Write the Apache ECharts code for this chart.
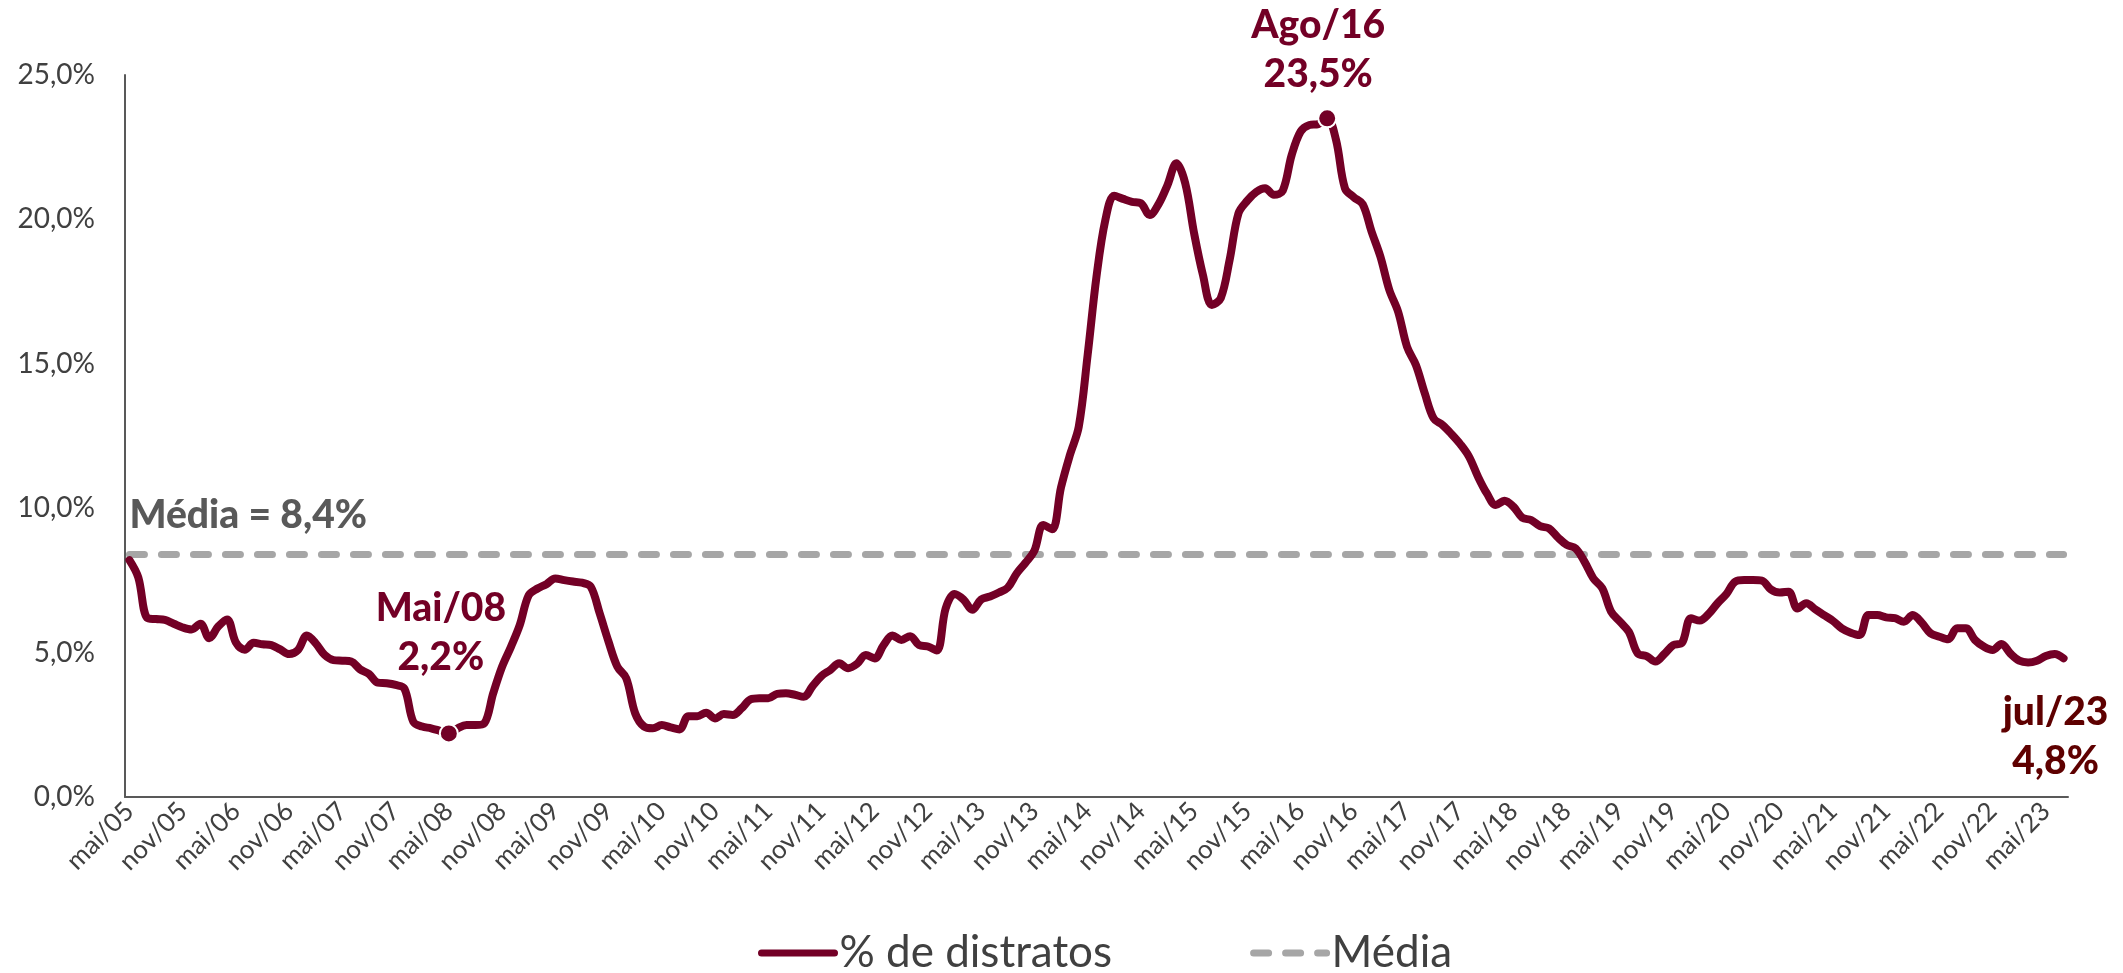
<!DOCTYPE html>
<html>
<head>
<meta charset="utf-8">
<script src="https://cdn.jsdelivr.net/npm/echarts@6/dist/echarts.min.js"></script>
<style>
    html, body { margin: 0; padding: 0; background: #fff; }
    #chart { width: 2123px; height: 973px; }
</style>
</head>
<body>
<div id="chart"></div>
<script>
// meses do eixo x (mai/05 ... jul/23)
var mesesNomes = ['jan','fev','mar','abr','mai','jun','jul','ago','set','out','nov','dez'];
var anoInicio = 2005, mesInicio = 4; // mai/05

// % de distratos, mensal
var distratos = [
    8.2, 7.6, 6.2, 6.16, 6.13, 6.0, 5.87, 5.8, 6.0, 5.5,
    5.9, 6.15, 5.35, 5.1, 5.34, 5.29, 5.26, 5.11, 4.95, 5.09,
    5.59, 5.32, 4.92, 4.74, 4.72, 4.69, 4.42, 4.26, 3.96, 3.94,
    3.88, 3.75, 2.6, 2.44, 2.38, 2.29, 2.2, 2.38, 2.49, 2.49,
    2.55, 3.59, 4.51, 5.2, 5.96, 6.99, 7.22, 7.37, 7.57, 7.51,
    7.46, 7.42, 7.28, 6.36, 5.38, 4.51, 4.11, 2.9, 2.44, 2.38,
    2.49, 2.41, 2.34, 2.8, 2.8, 2.92, 2.72, 2.87, 2.84, 3.07,
    3.38, 3.42, 3.42, 3.57, 3.59, 3.54, 3.47, 3.84, 4.19, 4.4,
    4.63, 4.46, 4.61, 4.92, 4.8, 5.26, 5.59, 5.44, 5.57, 5.26,
    5.21, 5.07, 6.53, 7.03, 6.84, 6.48, 6.84, 6.94, 7.08, 7.25,
    7.74, 8.11, 8.53, 9.42, 9.27, 10.72, 11.84, 12.82, 15.3, 18.02,
    19.98, 20.82, 20.71, 20.61, 20.56, 20.15, 20.53, 21.19, 21.94, 21.25,
    19.52, 18.07, 17.04, 17.27, 18.59, 20.21, 20.65, 20.95, 21.08, 20.85,
    21.0, 22.23, 23.04, 23.27, 23.3, 23.5, 22.75, 21.08, 20.77, 20.53,
    19.58, 18.71, 17.56, 16.8, 15.59, 14.96, 13.98, 13.11, 12.88, 12.57,
    12.22, 11.78, 11.09, 10.51, 10.11, 10.26, 10.05, 9.67, 9.59, 9.38,
    9.3, 8.99, 8.73, 8.61, 8.15, 7.57, 7.23, 6.42, 6.07, 5.72,
    4.97, 4.88, 4.69, 4.95, 5.26, 5.34, 6.19, 6.11, 6.34, 6.71,
    7.03, 7.46, 7.51, 7.51, 7.49, 7.19, 7.08, 7.11, 6.53, 6.71,
    6.5, 6.3, 6.1, 5.84, 5.69, 5.61, 6.3, 6.3, 6.22, 6.19,
    6.07, 6.3, 6.04, 5.67, 5.55, 5.46, 5.84, 5.84, 5.44, 5.21,
    5.09, 5.3, 4.97, 4.72, 4.66, 4.72, 4.88, 4.95, 4.8
];

// média do período
var mediaValor = 8.4;

// pontos destacados: índice no array e texto
var destaqueIdx = [36, 135, 218];
var destaqueTxt = ['Mai/08', 'Ago/16', 'jul/23'];

var categorias = [];
for (var i = 0; i < distratos.length; i++) {
    var m = mesInicio + i;
    var ano = anoInicio + Math.floor(m / 12);
    categorias.push(mesesNomes[m % 12] + '/' + String(ano).substr(2));
}
var media = distratos.map(function () { return mediaValor; });

var fmt = function (v) { return v.toFixed(1).replace('.', ',') + '%'; };

var vinho = '#730026';
var fonte = 'Lato';

var labelDestaque = {
    show: true,
    fontFamily: fonte,
    fontWeight: 900,
    fontSize: 39,
    lineHeight: 49,
    color: vinho,
    formatter: function (p) { return p.name + '\n' + fmt(p.value[1]); }
};

var destaques = [
    {   // Mai/08
        name: destaqueTxt[0],
        value: [destaqueIdx[0], distratos[destaqueIdx[0]]],
        label: Object.assign({}, labelDestaque, { position: 'top', distance: 42, offset: [-8, 0] })
    },
    {   // Ago/16
        name: destaqueTxt[1],
        value: [destaqueIdx[1], distratos[destaqueIdx[1]]],
        label: Object.assign({}, labelDestaque, { position: 'top', distance: 9, offset: [-9, 0] })
    },
    {   // jul/23
        name: destaqueTxt[2],
        value: [destaqueIdx[2], distratos[destaqueIdx[2]]],
        symbolSize: 0,
        label: Object.assign({}, labelDestaque, { position: 'bottom', distance: 30, offset: [-8, 0], color: '#5e0000' })
    },
    {   // rótulo da média
        name: 'Média = ' + fmt(mediaValor),
        value: [0, media[0]],
        symbolSize: 0,
        label: {
            show: true, position: 'top', align: 'left', distance: 19,
            fontFamily: fonte, fontWeight: 900, fontSize: 39, color: '#595959',
            formatter: function (p) { return p.name; }
        }
    }
];

var option = {
    animation: false,
    backgroundColor: '#fff',
    textStyle: { fontFamily: fonte },
    grid: { left: 125, right: 55, top: 75, bottom: 176 },
    legend: {
        data: ['% de distratos', 'Média'],
        left: 753,
        top: 926,
        itemWidth: 73,
        itemHeight: 14,
        itemGap: 138,
        itemStyle: { opacity: 0 },
        lineStyle: { width: 7, cap: 'round' },
        textStyle: { fontFamily: fonte, fontSize: 44, color: '#404040' }
    },
    xAxis: [{
        type: 'category',
        data: categorias,
        boundaryGap: true,
        axisLine: { lineStyle: { color: '#595959', width: 2 } },
        axisTick: { interval: 5, length: 9, lineStyle: { color: '#595959', width: 2 } },
        axisLabel: {
            interval: 5, rotate: 45, margin: 10,
            fontFamily: fonte, fontSize: 26, color: '#404040'
        }
    }, {
        type: 'category',
        data: categorias,
        boundaryGap: true,
        position: 'bottom',
        axisLine: { show: false },
        axisTick: { inside: true, interval: 5, length: 9, lineStyle: { color: '#595959', width: 2 } },
        axisLabel: { show: false }
    }],
    yAxis: {
        type: 'value',
        min: 0, max: 25, interval: 5,
        splitLine: { show: false },
        axisTick: { show: false },
        axisLine: { show: true, lineStyle: { color: '#595959', width: 2 } },
        axisLabel: {
            margin: 30,
            fontFamily: fonte, fontSize: 28, color: '#404040',
            formatter: fmt
        }
    },
    series: [
        {
            name: 'Média',
            type: 'line',
            data: media,
            symbol: 'none',
            lineStyle: { color: '#a6a6a6', width: 7, type: [15, 17], cap: 'round' },
            itemStyle: { color: '#a6a6a6' },
            z: 2
        },
        {
            name: '% de distratos',
            type: 'line',
            data: distratos,
            symbol: 'none',
            smooth: 0.35,
            lineStyle: { color: vinho, width: 8, cap: 'round', join: 'round' },
            itemStyle: { color: vinho },
            z: 3
        },
        {
            name: 'destaques',
            type: 'scatter',
            data: destaques,
            symbol: 'circle',
            symbolSize: 18,
            itemStyle: { color: vinho, opacity: 1, borderColor: '#fff', borderWidth: 2 },
            z: 4
        }
    ]
};

var chart = echarts.init(document.getElementById('chart'));
chart.setOption(option);
</script>
</body>
</html>
